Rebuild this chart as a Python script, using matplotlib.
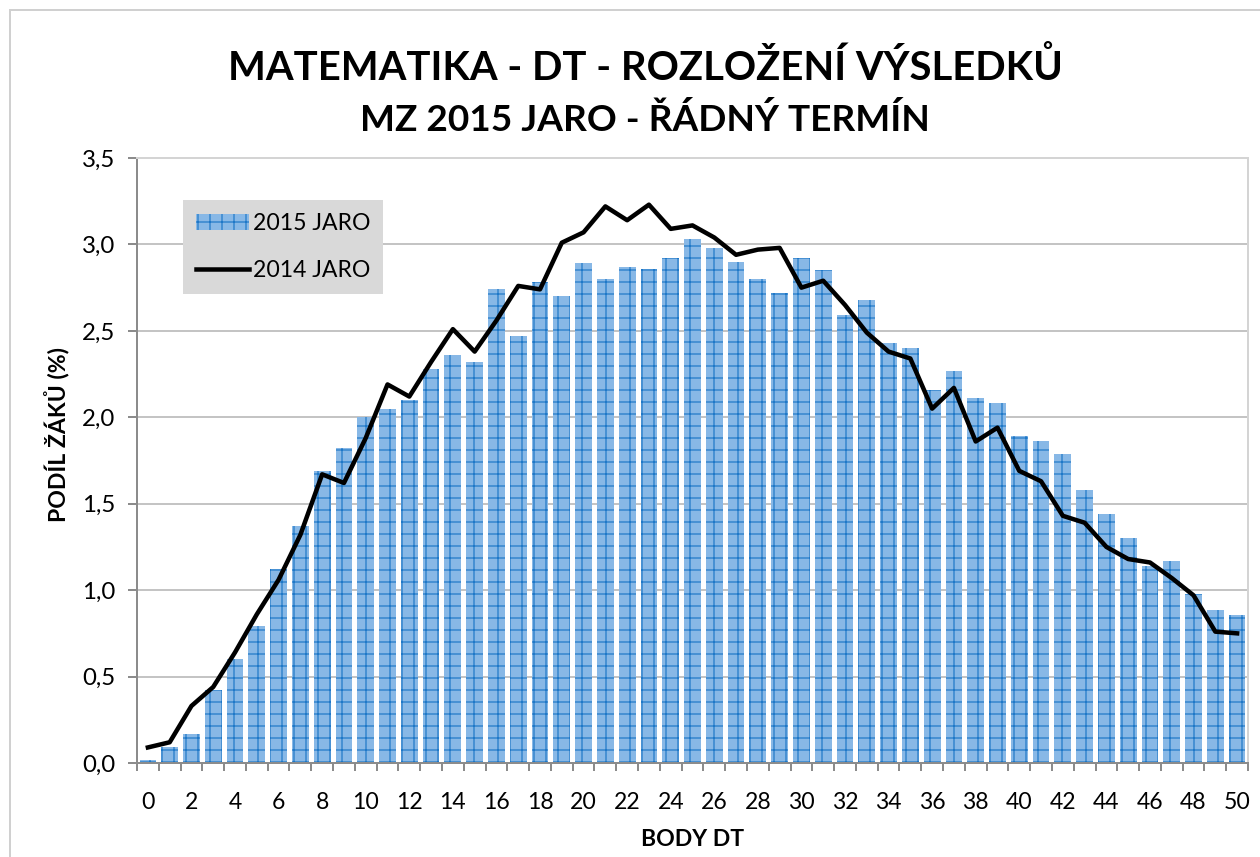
import matplotlib
matplotlib.use("Agg")
import matplotlib.pyplot as plt
import matplotlib.patches as patches
import numpy as np

# points (0-50) and share of students in %
body = list(range(0, 51))
jaro2015 = [0.02, 0.09, 0.17, 0.42, 0.60, 0.79, 1.12, 1.37, 1.69, 1.82,
            2.00, 2.05, 2.10, 2.28, 2.36, 2.32, 2.74, 2.47, 2.78, 2.70,
            2.89, 2.80, 2.87, 2.86, 2.92, 3.03, 2.98, 2.90, 2.80, 2.72,
            2.92, 2.85, 2.59, 2.68, 2.43, 2.40, 2.16, 2.27, 2.11, 2.08,
            1.89, 1.86, 1.79, 1.58, 1.44, 1.30, 1.14, 1.17, 0.98, 0.885, 0.855]
jaro2014 = [0.09, 0.12, 0.33, 0.44, 0.64, 0.86, 1.06, 1.32, 1.67, 1.62,
            1.88, 2.19, 2.12, 2.32, 2.51, 2.38, 2.56, 2.76, 2.74, 3.01,
            3.07, 3.22, 3.14, 3.23, 3.09, 3.11, 3.04, 2.94, 2.97, 2.98,
            2.75, 2.79, 2.65, 2.49, 2.38, 2.34, 2.05, 2.17, 1.86, 1.94,
            1.69, 1.63, 1.43, 1.39, 1.25, 1.18, 1.16, 1.07, 0.97, 0.76, 0.75]
yticks = [0.0, 0.5, 1.0, 1.5, 2.0, 2.5, 3.0, 3.5]
ytick_labels = ["0,0", "0,5", "1,0", "1,5", "2,0", "2,5", "3,0", "3,5"]
xtick_labels = [str(b) for b in body[::2]]

plt.rcParams['font.family'] = ['Lato', 'DejaVu Sans']
plt.rcParams['hatch.linewidth'] = 1.2

# dpi 72 -> 1 pt == 1 px
fig = plt.figure(figsize=(1260 / 72, 857 / 72), dpi=72)
ax = fig.add_axes([137 / 1260, 1 - 763 / 857, 1111 / 1260, 605 / 857])

bars = ax.bar(body, jaro2015, width=0.77, color='#88b8e6', edgecolor='#1f78c8',
              linewidth=0, hatch='+', label='2015 JARO', zorder=2)
line, = ax.plot(body, jaro2014, color='black', linewidth=4.5, label='2014 JARO', zorder=3)

ax.set_xlim(-0.5, 50.5)
ax.set_ylim(0, 3.5)
ax.set_yticks(yticks)
ax.set_yticklabels(ytick_labels)
ax.set_xticks(body[::2])
ax.set_xticklabels(xtick_labels)
ax.set_xticks(np.arange(-0.5, 51, 1), minor=True)
ax.tick_params(axis='x', which='major', length=0, pad=29, labelsize=23)
ax.tick_params(axis='x', which='minor', length=8, width=2, color='#8c8c8c')
ax.tick_params(axis='y', length=9, width=2, color='#8c8c8c', pad=13, labelsize=24)

ax.grid(axis='y', color='#c4c4c4', linewidth=2, zorder=0)
ax.set_axisbelow(True)
for s in ['left', 'bottom']:
    ax.spines[s].set_color('#8c8c8c')
    ax.spines[s].set_linewidth(2)
for s in ['top', 'right']:
    ax.spines[s].set_color('#d4d4d4')
    ax.spines[s].set_linewidth(2)

ax.set_xlabel('BODY DT', fontsize=23, fontweight='bold')
ax.xaxis.set_label_coords(0.5, -(846 - 763) / 605)
ax.xaxis.label.set_va('baseline')
ax.set_ylabel('PODÍL ŽÁKŮ (%)', fontsize=23, fontweight='bold')
ax.yaxis.set_label_coords((69 - 137) / 1111, (763 - 435) / 605)

fig.text(645 / 1260, 1 - 80 / 857, 'MATEMATIKA - DT - ROZLOŽENÍ VÝSLEDKŮ',
         ha='center', va='baseline', fontsize=40, fontweight='bold')
fig.text(645 / 1260, 1 - 131 / 857, 'MZ 2015 JARO - ŘÁDNÝ TERMÍN',
         ha='center', va='baseline', fontsize=37, fontweight='bold')

leg = ax.legend(handles=[bars, line], loc='upper left',
                bbox_to_anchor=(183 / 1260, 1 - 200 / 857),
                bbox_transform=fig.transFigure, fontsize=23, frameon=True,
                fancybox=False, framealpha=1, handlelength=2.3, handletextpad=0.2,
                labelspacing=1.15, borderpad=0.55, borderaxespad=0)
leg.get_frame().set_facecolor('#d9d9d9')
leg.get_frame().set_edgecolor('none')

# outer chart border
fig.patches.append(patches.Rectangle((10 / 1260, -0.05), 1.1, 1 - 10 / 857 + 0.05,
                                     transform=fig.transFigure, fill=False,
                                     edgecolor='#d0d0d0', linewidth=2))

fig.savefig('out.png', dpi=72)
